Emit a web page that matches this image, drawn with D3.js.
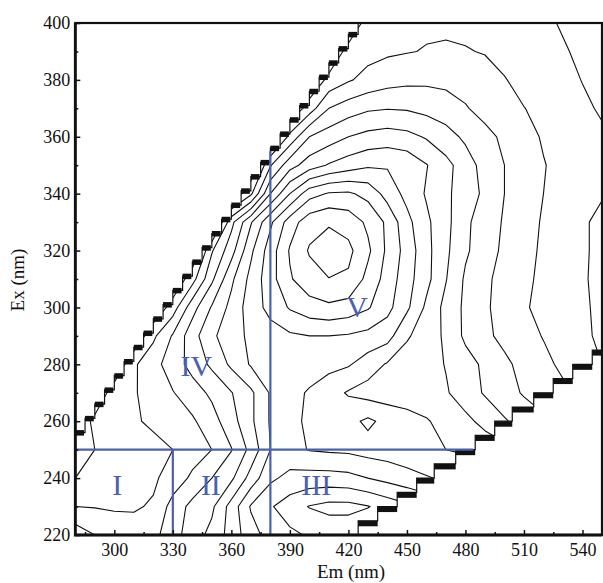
<!DOCTYPE html>
<html><head><meta charset="utf-8">
<script src="https://cdn.jsdelivr.net/npm/d3@7"></script>
<style>
body{margin:0;background:#fff}
svg{display:block}
text{font-family:"Liberation Serif","Times New Roman",serif;fill:#111}
</style>
</head><body>
<svg id="chart" width="603" height="583"></svg>
<script>
// ---------------- data ----------------
const emGrid = [280,290,300,310,320,330,340,350,360,370,380,390,400,410,420,430,440,450,460,470,480,490,500,510,520,530,540,550];
const exGrid = [220,230,240,250,260,270,280,290,300,310,320,330,340,350,360,370,380,390,400];
// fluorescence intensity (contour-level units), rows = Ex 220 ... 400, cols = Em 280 ... 550
const intensity = [
 [3.6,3.0,2.5,2.4,2.7,3.6,4.5,5.3,6.4,7.6,8.4,8.8,9.1,9.3,9.3,9.1,8.8,8.5,8.2,7.9,7.6,7.3,7.0,6.7,6.4,6.1,5.8,5.5],
 [2.0,1.95,1.9,1.9,2.1,3.4,4.3,4.8,6.4,8.1,8.9,9.5,10.05,10.3,10.3,10.05,9.6,9.2,8.8,8.4,8.0,7.6,7.2,6.8,6.4,6.0,5.6,5.2],
 [1.0,1.3,1.5,1.65,1.85,2.4,3.2,4.0,4.8,6.4,7.8,8.3,8.4,8.4,8.3,8.0,7.7,7.4,7.1,6.8,6.5,6.2,5.9,5.6,5.3,5.0,4.7,4.4],
 [0.7,1.0,1.3,1.5,1.75,2.0,2.5,3.0,3.95,5.3,7.0,7.3,6.95,6.85,6.8,6.6,6.5,6.3,6.05,6.0,5.9,5.6,5.3,5.0,4.7,4.4,4.1,3.8],
 [0,1.3,1.7,1.9,2.15,2.5,2.85,3.6,4.6,5.8,7.1,7.3,6.8,6.6,6.7,7.2,6.7,6.4,6.1,5.6,5.25,4.7,4.1,3.6,3.2,2.8,2.4,2.0],
 [0,0,1.6,1.9,2.45,2.95,3.55,4.2,4.95,5.8,7.1,7.3,6.9,6.4,5.9,5.6,5.5,5.45,5.3,5.1,4.5,3.9,3.4,2.9,2.5,2.2,1.9,1.6],
 [0,0,0,1.85,2.65,3.5,4.35,5.2,6.2,7.1,7.4,7.5,7.45,7.3,7.1,6.5,5.9,5.6,5.4,4.95,4.4,3.8,3.2,2.7,2.25,1.8,1.4,1.0],
 [0,0,0,0,1.8,3.1,4.6,5.8,6.6,7.2,7.6,7.85,8.0,8.0,7.9,7.7,7.4,6.1,5.6,4.8,3.8,3.2,2.75,2.35,1.95,1.6,1.1,0.9],
 [0,0,0,0,0,1.5,3.6,5.1,6.3,7.5,8.3,9.1,9.6,9.8,9.6,9.1,8.3,7.2,5.8,4.7,3.8,3.15,2.6,2.1,1.75,1.4,1.08,0.88],
 [0,0,0,0,0,0,1.6,3.8,5.8,7.3,8.6,9.9,10.6,10.98,10.85,9.7,8.6,7.4,6.3,5.05,3.85,3.2,2.65,2.2,1.8,1.45,1.06,0.85],
 [0,0,0,0,0,0,0,2.9,4.6,6.8,8.5,10.1,11.1,11.45,11.25,10.2,8.8,7.6,6.3,5.2,4.15,3.45,2.8,2.3,1.85,1.5,1.08,0.85],
 [0,0,0,0,0,0,0,0,3.7,5.9,7.8,9.5,10.6,10.9,10.6,9.8,8.8,7.3,6.2,5.3,4.2,3.5,2.9,2.4,1.9,1.5,1.08,0.85],
 [0,0,0,0,0,0,0,0,0,1.8,5.0,7.0,8.6,9.1,9.15,8.7,7.6,6.7,5.9,5.2,4.5,3.8,3.0,2.5,2.0,1.55,1.25,1.05],
 [0,0,0,0,0,0,0,0,0,0,2.9,4.6,5.5,6.1,6.5,6.85,6.9,6.7,6.05,5.3,4.5,3.6,3.0,2.55,2.05,1.7,1.4,1.15],
 [0,0,0,0,0,0,0,0,0,0,0,2.3,4.0,4.5,5.0,5.3,5.45,5.3,4.9,4.4,3.8,3.3,2.8,2.35,1.9,1.6,1.35,1.1],
 [0,0,0,0,0,0,0,0,0,0,0,0,1.5,3.0,3.5,3.85,3.95,3.9,3.7,3.45,3.08,2.65,2.35,2.02,1.75,1.45,1.12,0.92],
 [0,0,0,0,0,0,0,0,0,0,0,0,0,1.3,1.9,2.3,2.6,2.75,2.8,2.75,2.6,2.35,2.05,1.7,1.45,1.2,0.98,0.85],
 [0,0,0,0,0,0,0,0,0,0,0,0,0,0,1.4,1.7,1.85,1.95,2.05,2.1,2.05,1.95,1.7,1.45,1.25,1.05,0.9,0.8],
 [0,0,0,0,0,0,0,0,0,0,0,0,0,0,0,1.5,1.7,1.8,1.85,1.85,1.8,1.7,1.55,1.35,1.1,0.95,0.85,0.8]
];
const contourLevels = [1,2,3,4,5,6,7,8,9,10,11];

// Rayleigh scatter cut (upper left): tread Ex and first valid Em of each step
const rayleighTreadEx = [256,261,266,271,276,281,286,291,296,301,306,311,316,321,326,331,336,341,346,351,356,361,366,371,376,381,386,391,396];
const rayleighStartEm = [280,285,290,295,300,305,310,315,320,325,330,335,340,345,350,355,360,365,370,375,380,385,390,395,400,405,410,415,420];
const rayleighEndEm = 425;
// second-order scatter cut (lower right): tread Ex and Em range of each step
const secondTreadEx  = [225,230,235,240,245,250,255,260,265,270,275,280,285];
const secondStartEm  = [425,435,445,455,464,475,485,495,504,515,525,535,545];
const secondEndEm = 555;

// region dividers and labels
const dividers = [
  {em:[280,484], ex:[250,250]},
  {em:[330,330], ex:[220,250]},
  {em:[380,380], ex:[220,355]}
];
const regionNames = ["I","II","III","IV","V"];
const regionEm    = [301.5,349.5,403.5,342,424.5];
const regionEx    = [237.5,237.5,237.5,279.5,300];

const emTicks = [300,330,360,390,420,450,480,510,540];
const emMinor = [285,315,345,375,405,435,465,495,525];
const exTicks = [220,240,260,280,300,320,340,360,380,400];
const exMinor = [230,250,270,290,310,330,350,370,390];

// ---------------- chart ----------------
const svg = d3.select("#chart");
const L = 75.3, R = 602, T = 23, B = 535;
const x = d3.scaleLinear().domain([280,550]).range([L,R]);
const y = d3.scaleLinear().domain([220,400]).range([B,T]);
const blue = "#4a60b2";

const defs = svg.append("defs");
defs.append("clipPath").attr("id","plotClip").append("rect")
  .attr("x",L).attr("y",T).attr("width",R-L).attr("height",B-T);

// valid data region polygon (between the two scatter cuts)
const region = [];
region.push([275,215]);
region.push([275,rayleighTreadEx[0]]);
rayleighTreadEx.forEach((e,i)=>{
  const next = i < rayleighStartEm.length-1 ? rayleighStartEm[i+1] : rayleighEndEm;
  region.push([rayleighStartEm[i], e]);
  region.push([next, e]);
});
region.push([rayleighEndEm, 405]);
region.push([560, 405]);
const nS = secondTreadEx.length;
region.push([560, secondTreadEx[nS-1]]);
for (let i = nS-1; i >= 0; i--) {
  const end = i < nS-1 ? secondStartEm[i+1] : secondEndEm;
  region.push([end, secondTreadEx[i]]);
  region.push([secondStartEm[i], secondTreadEx[i]]);
}
region.push([secondStartEm[0], 215]);
const lineXY = d3.line().x(d=>x(d[0])).y(d=>y(d[1]));
defs.append("clipPath").attr("id","dataClip").append("path")
  .attr("d", lineXY(region)+"Z");

// contours
const nx = emGrid.length, ny = exGrid.length;
const dEm = emGrid[1]-emGrid[0], dEx = exGrid[1]-exGrid[0];
const contours = d3.contours().size([nx, ny]).thresholds(contourLevels)(intensity.flat());
const proj = d3.geoTransform({
  point(px, py){ this.stream.point(x(emGrid[0] + (px-0.5)*dEm), y(exGrid[0] + (py-0.5)*dEx)); }
});
const gPath = d3.geoPath(proj);
const plot = svg.append("g").attr("clip-path","url(#plotClip)");
plot.append("g").attr("clip-path","url(#dataClip)")
  .selectAll("path").data(contours).join("path")
  .attr("d", gPath)
  .attr("fill","none").attr("stroke","#111").attr("stroke-width",1.1)
  .attr("stroke-linejoin","round");

// scatter staircases
const stairs = plot.append("g");
const rayLine = [];
rayleighTreadEx.forEach((e,i)=>{
  const next = i < rayleighStartEm.length-1 ? rayleighStartEm[i+1] : rayleighEndEm;
  rayLine.push([rayleighStartEm[i], e]);
  rayLine.push([next, e]);
});
rayLine.push([rayleighEndEm, 405]);
stairs.append("path").attr("d", lineXY(rayLine)).attr("fill","none")
  .attr("stroke","#111").attr("stroke-width",1.2);
stairs.selectAll("rect.ray").data(rayleighTreadEx).join("rect").attr("class","ray")
  .attr("x",(e,i)=>x(rayleighStartEm[i]))
  .attr("y",e=>y(e)-2.5)
  .attr("width",(e,i)=>x(i < rayleighStartEm.length-1 ? rayleighStartEm[i+1] : rayleighEndEm)-x(rayleighStartEm[i])-1)
  .attr("height",5.5).attr("fill","#111");
const secLine = [[secondStartEm[0],215]];
secondTreadEx.forEach((e,i)=>{
  const end = i < nS-1 ? secondStartEm[i+1] : secondEndEm;
  secLine.push([secondStartEm[i], e]);
  secLine.push([end, e]);
});
stairs.append("path").attr("d", lineXY(secLine)).attr("fill","none")
  .attr("stroke","#111").attr("stroke-width",1.2);
stairs.selectAll("rect.sec").data(secondTreadEx).join("rect").attr("class","sec")
  .attr("x",(e,i)=>x(secondStartEm[i]))
  .attr("y",e=>y(e))
  .attr("width",(e,i)=>x(i < nS-1 ? secondStartEm[i+1] : secondEndEm)-x(secondStartEm[i]))
  .attr("height",5.5).attr("fill","#111");

// region dividers
plot.selectAll("line.div").data(dividers).join("line").attr("class","div")
  .attr("x1",d=>x(d.em[0])).attr("x2",d=>x(d.em[1]))
  .attr("y1",d=>y(d.ex[0])).attr("y2",d=>y(d.ex[1]))
  .attr("stroke",blue).attr("stroke-width",2.2);
svg.selectAll("text.reg").data(regionNames).join("text").attr("class","reg")
  .attr("x",(d,i)=>x(regionEm[i])).attr("y",(d,i)=>y(regionEx[i]))
  .attr("dy","0.33em").attr("text-anchor","middle")
  .style("font-size","30px").style("fill",blue).text(d=>d);

// axes (ticks pointing inward)
const ax = svg.append("g").attr("transform",`translate(0,${B})`)
  .call(d3.axisBottom(x).tickValues(emTicks).tickSize(-5).tickPadding(8));
const axm = svg.append("g").attr("transform",`translate(0,${B})`)
  .call(d3.axisBottom(x).tickValues(emMinor).tickSize(-3).tickFormat(""));
const ay = svg.append("g").attr("transform",`translate(${L},0)`)
  .call(d3.axisLeft(y).tickValues(exTicks).tickSize(-5).tickPadding(5));
const aym = svg.append("g").attr("transform",`translate(${L},0)`)
  .call(d3.axisLeft(y).tickValues(exMinor).tickSize(-3).tickFormat(""));
[ax,axm,ay,aym].forEach(g=>{
  g.select(".domain").remove();
  g.selectAll(".tick line").attr("stroke","#111").attr("stroke-width",1.5);
  g.selectAll("text").style("font-size","18px").style("font-family","'Liberation Serif',serif").attr("fill","#111");
});

// frame
svg.append("rect").attr("x",L).attr("y",T).attr("width",R-L).attr("height",B-T)
  .attr("fill","none").attr("stroke","#111").attr("stroke-width",2.2);
svg.append("path").attr("d",`M${L},${T}V${B}H${R}`).attr("fill","none")
  .attr("stroke","#111").attr("stroke-width",2.8);

// axis titles
svg.append("text").attr("x",351).attr("y",578).attr("text-anchor","middle")
  .style("font-size","19px").text("Em (nm)");
svg.append("text").attr("transform","translate(24,280) rotate(-90)").attr("text-anchor","middle")
  .style("font-size","19px").text("Ex (nm)");
</script>
</body></html>
